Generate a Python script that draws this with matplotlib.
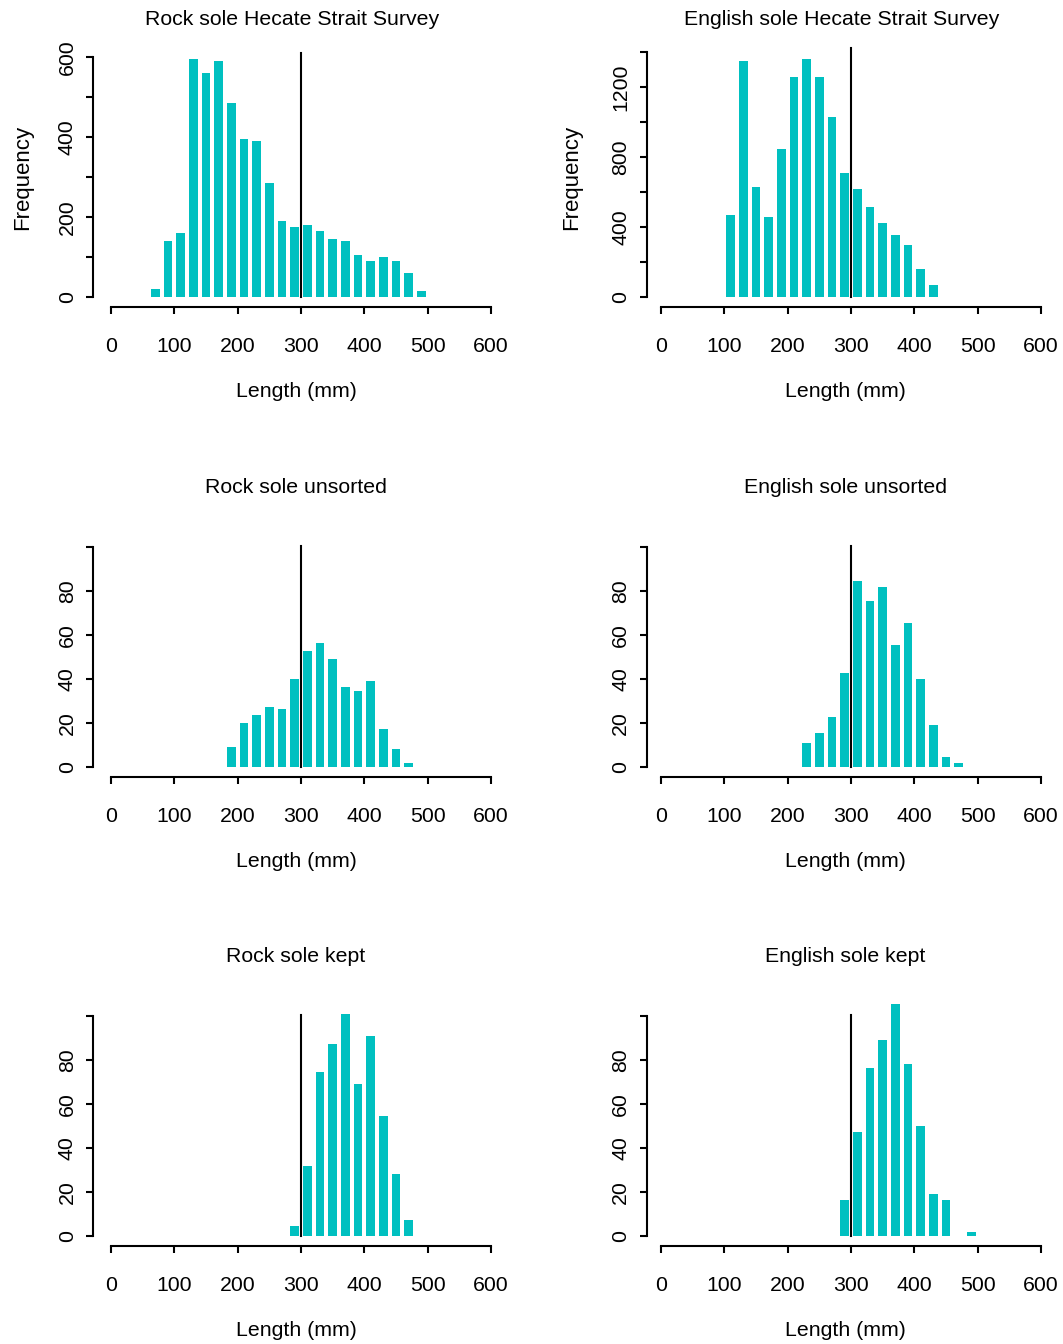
import numpy as np
import matplotlib
matplotlib.use("Agg")
import matplotlib.pyplot as plt

plt.rcParams['font.family'] = ['Liberation Sans', 'DejaVu Sans']

# bin mid-points (mm) and counts
rock_survey_len = [70, 90, 110, 130, 150, 170, 190, 210, 230, 250, 270, 290,
                   310, 330, 350, 370, 390, 410, 430, 450, 470, 490]
rock_survey_n = [19, 139, 159, 594, 559, 589, 484, 394, 389, 284, 189, 174,
                 179, 164, 144, 139, 104, 89, 99, 89, 59, 14]

english_survey_len = [110, 130, 150, 170, 190, 210, 230, 250, 270, 290, 310,
                      330, 350, 370, 390, 410, 430]
english_survey_n = [467, 1349, 628, 456, 845, 1257, 1360, 1257, 1028, 708, 616,
                    513, 422, 353, 296, 158, 67]

rock_unsorted_len = [190, 210, 230, 250, 270, 290, 310, 330, 350, 370, 390,
                     410, 430, 450, 470]
rock_unsorted_n = [9.0, 19.9, 23.5, 27.2, 26.3, 39.9, 52.7, 56.3, 49.0, 36.3,
                   34.5, 39.0, 17.2, 8.0, 1.7]

english_unsorted_len = [230, 250, 270, 290, 310, 330, 350, 370, 390, 410, 430,
                        450, 470]
english_unsorted_n = [10.8, 15.3, 22.6, 42.7, 84.6, 75.4, 81.8, 55.4, 65.4,
                      39.9, 19.0, 4.4, 1.7]

rock_kept_len = [290, 310, 330, 350, 370, 390, 410, 430, 450, 470]
rock_kept_n = [4.4, 31.7, 74.5, 87.3, 100.9, 69.1, 90.9, 54.5, 28.1, 7.1]

english_kept_len = [290, 310, 330, 350, 370, 390, 410, 430, 450, 490]
english_kept_n = [16.2, 47.2, 76.4, 89.1, 105.5, 78.2, 49.9, 19.0, 16.2, 1.7]

titles = ["Rock sole Hecate Strait Survey", "English sole Hecate Strait Survey",
          "Rock sole unsorted", "English sole unsorted",
          "Rock sole kept", "English sole kept"]
lengths = [rock_survey_len, english_survey_len, rock_unsorted_len,
           english_unsorted_len, rock_kept_len, english_kept_len]
counts = [rock_survey_n, english_survey_n, rock_unsorted_n,
          english_unsorted_n, rock_kept_n, english_kept_n]
y_max = [625, 1430, 114, 114, 114, 114]
y_ticks = [(100, 600, 2), (200, 1400, 2), (20, 100, 1), (20, 100, 1),
           (20, 100, 1), (20, 100, 1)]
cut_top = [610, 1420, 100.5, 100.5, 100.5, 100.5]
CUT = 300

W, H = 1063, 1344
BAR = "#00C0C0"
FS = 15.3
px_per_mm = 380 / 600.0
# plot regions in pixels: left edge, x=0 position, right edge
col_left = [93.3, 647.0]
col_zero = [111.0, 661.0]
col_right = [498.7, 1044.0]
row_top = [36.7, 506.7, 975.7]
reg_h = 270

fig = plt.figure(figsize=(W / 100, H / 100), dpi=100)

for i in range(6):
    r, c = divmod(i, 2)
    left, right = col_left[c], col_right[c]
    x_lo = (left - col_zero[c]) / px_per_mm
    x_hi = (right - col_zero[c]) / px_per_mm
    ax = fig.add_axes([left / W, 1 - (row_top[r] + reg_h) / H,
                       (right - left) / W, reg_h / H])
    ax.bar(lengths[i], counts[i], width=14, color=BAR, linewidth=0, clip_on=False)
    ax.plot([CUT, CUT], [0, cut_top[i]], color="black", lw=1.5)

    ax.set_xlim(x_lo, x_hi)
    Y = y_max[i]
    ax.set_ylim(-0.04 * Y, 1.04 * Y)

    for s in ["top", "right"]:
        ax.spines[s].set_visible(False)
    ax.spines["left"].set_position(("axes", 0))
    ax.spines["bottom"].set_position(("axes", 0))
    ax.spines["left"].set_linewidth(1.5)
    ax.spines["bottom"].set_linewidth(1.5)

    ax.set_xticks(np.arange(0, 601, 100))
    ax.set_xticklabels([str(v) for v in range(0, 601, 100)])
    ax.spines["bottom"].set_bounds(0, 600)

    step, top, every = y_ticks[i]
    yt = np.arange(0, top + 1, step)
    ax.set_yticks(yt)
    if every == 2:
        labs = [str(int(v)) if k % 2 == 0 else "" for k, v in enumerate(yt)]
    else:
        labs = [str(int(v)) if v < 100 else "" for v in yt]
    ax.set_yticklabels(labs, rotation=90, va="center")
    ax.spines["left"].set_bounds(0, top)

    ax.tick_params(axis="both", direction="out", length=5, width=1.5,
                   labelsize=FS, color="black")
    ax.tick_params(axis="x", pad=17)
    ax.tick_params(axis="y", pad=7)

    ax.annotate(titles[i], xy=(0.5, 1), xycoords="axes fraction",
                xytext=(-4 if r == 0 else 0, 17 if r == 0 else 19),
                textcoords="offset pixels",
                ha="center", va="center", fontsize=FS)
    ax.annotate("Length (mm)", xy=(0.5, 0), xycoords="axes fraction",
                xytext=(0, -85), textcoords="offset pixels",
                ha="center", va="center", fontsize=FS)
    if r == 0:
        ax.annotate("Frequency", xy=(0, 0.5), xycoords="axes fraction",
                    xytext=(-71 if c == 0 else -75, -6), textcoords="offset pixels",
                    ha="center", va="center", rotation=90, fontsize=16)

plt.savefig("out.png", dpi=100)
